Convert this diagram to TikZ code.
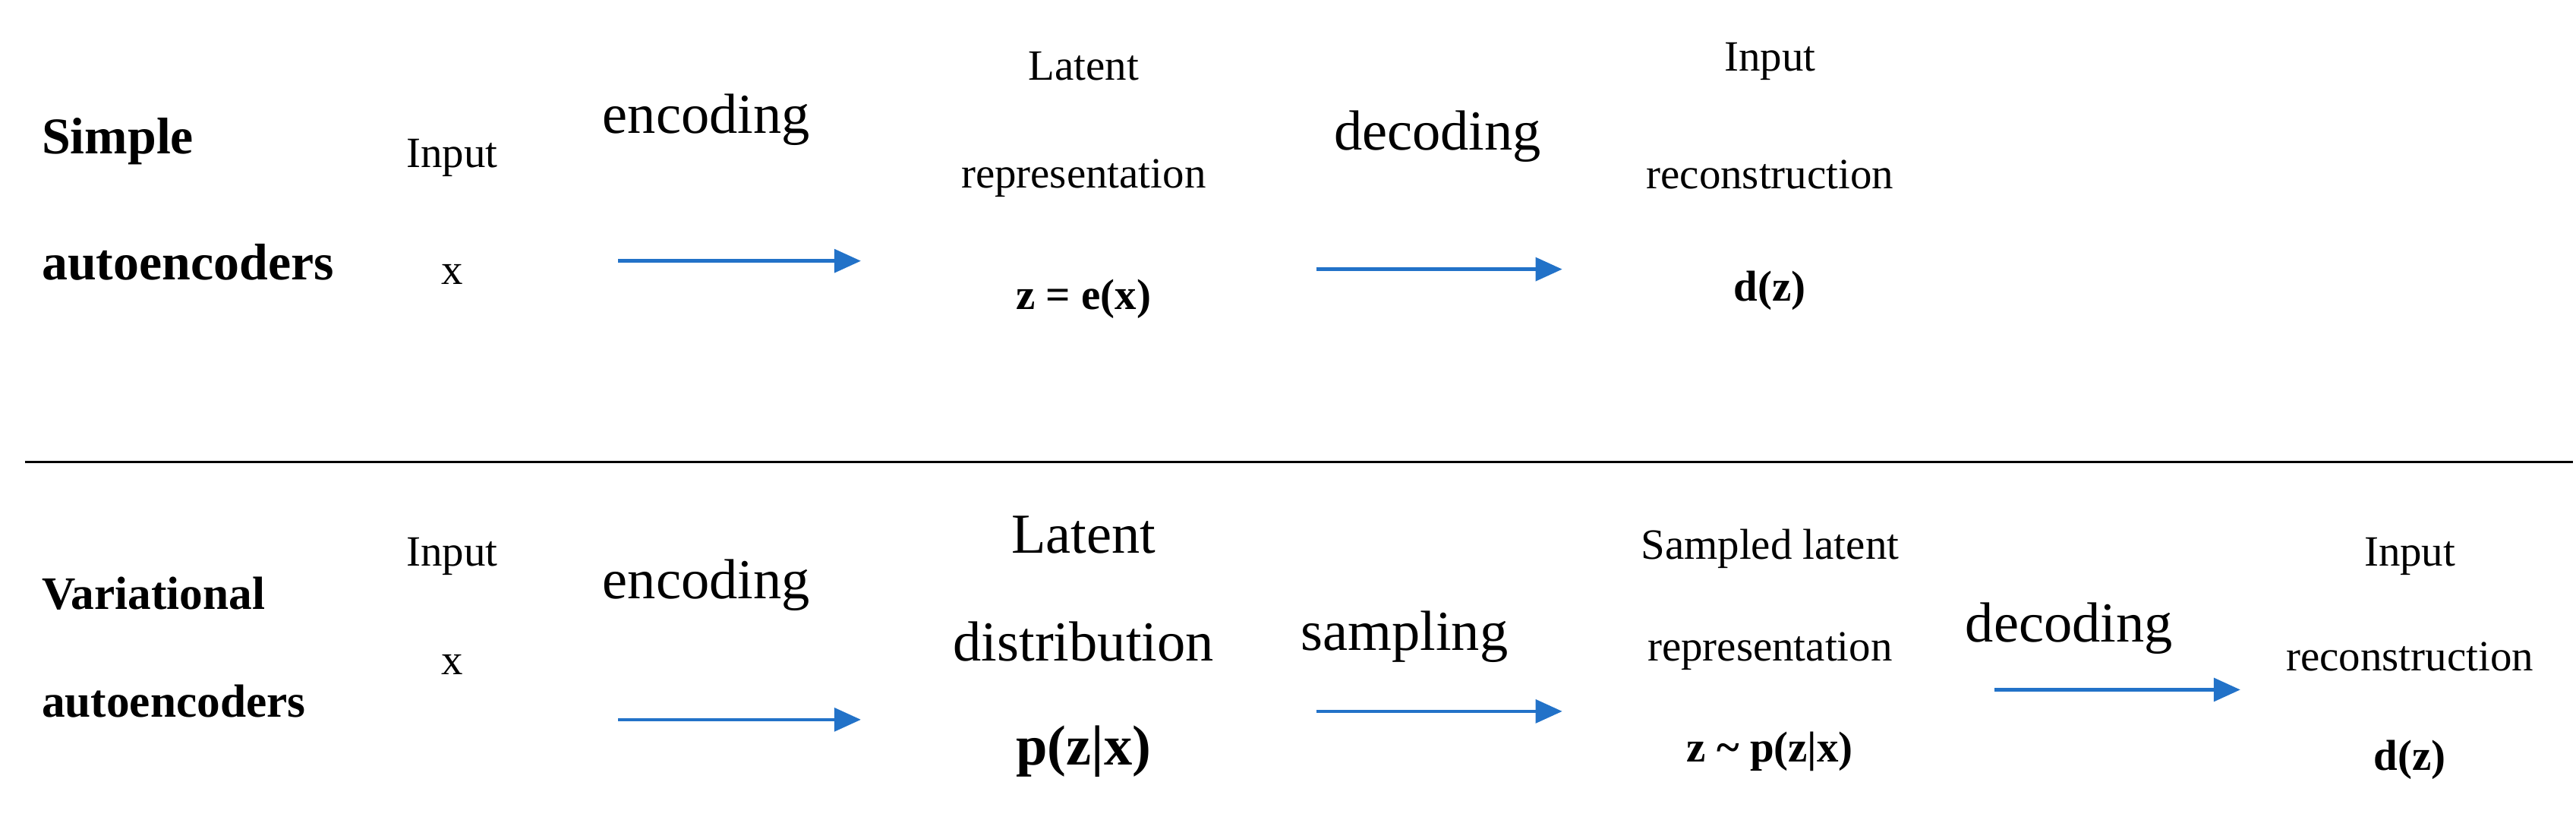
\documentclass[tikz,border=0pt]{standalone}
\usepackage{fontspec}
\setmainfont{Liberation Serif}
\usetikzlibrary{arrows.meta}
\definecolor{ablue}{HTML}{2272C8}
\tikzset{
  t/.style={inner sep=0pt,anchor=center,font=\fontsize{26}{30}\selectfont},
  tb/.style={t,font=\fontsize{26}{30}\selectfont\bfseries},
  big/.style={t,font=\fontsize{34}{40}\selectfont},
  lbl/.style={inner sep=0pt,anchor=west,font=\fontsize{31}{36}\selectfont\bfseries},
  lbl2/.style={inner sep=0pt,anchor=west,font=\fontsize{28}{32}\selectfont\bfseries},
  arr/.style={draw=ablue,line width=2pt,-{Triangle[length=16pt,width=14pt]}}
}
\begin{document}
\begin{tikzpicture}[x=1pt,y=-1pt]
\useasboundingbox (0,0) rectangle (1550,495);
% top
\node[lbl] (s1) at (25,85) {Simple};
\node[lbl] (s2) at (25,158) {autoencoders};
\node[t] (i1) at (272,95) {Input};
\node[t] (x1) at (272,165) {x};
\node[big] (e1) at (425,72) {encoding};
\coordinate (a1s) at (372,157); \coordinate (a1e) at (518,157);
\draw[arr] (a1s) -- (a1e);
\node[t] (l1) at (652,40) {Latent};
\node[t] (l2) at (652,107) {representation};
\node[tb] (l3) at (652,180) {z = e(x)};
\node[big] (d1) at (865,82) {decoding};
\coordinate (a2s) at (792,162); \coordinate (a2e) at (940,162);
\draw[arr] (a2s) -- (a2e);
\node[t] (r1) at (1065,37) {Input};
\node[t] (r2) at (1065,105) {reconstruction};
\node[tb] (r3) at (1065,175) {d(z)};
% separator
\coordinate (h1) at (15,278); \coordinate (h2) at (1548,278);
\draw[line width=1.2pt] (h1) -- (h2);
% bottom
\node[lbl2] (v1) at (25,357) {Variational};
\node[lbl2] (v2) at (25,422) {autoencoders};
\node[t] (i2) at (272,335) {Input};
\node[t] (x2) at (272,400) {x};
\node[big] (e2) at (425,352) {encoding};
\coordinate (b1s) at (372,433); \coordinate (b1e) at (518,433);
\draw[arr] (b1s) -- (b1e);
\node[big] (m1) at (652,322) {Latent};
\node[big] (m2) at (652,386) {distribution};
\node[big,font=\fontsize{34}{40}\selectfont\bfseries] (m3) at (652,452) {p(z|x)};
\node[big] (sp) at (845,383) {sampling};
\coordinate (b2s) at (792,428); \coordinate (b2e) at (940,428);
\draw[arr] (b2s) -- (b2e);
\node[t] (q1) at (1065,330) {Sampled latent};
\node[t] (q2) at (1065,392) {representation};
\node[tb] (q3) at (1065,452) {z \textasciitilde{} p(z|x)};
\node[big] (d2) at (1245,378) {decoding};
\coordinate (b3s) at (1200,415); \coordinate (b3e) at (1348,415);
\draw[arr] (b3s) -- (b3e);
\node[t] (w1) at (1450,335) {Input};
\node[t] (w2) at (1450,395) {reconstruction};
\node[tb] (w3) at (1450,457) {d(z)};
\end{tikzpicture}
\end{document}
